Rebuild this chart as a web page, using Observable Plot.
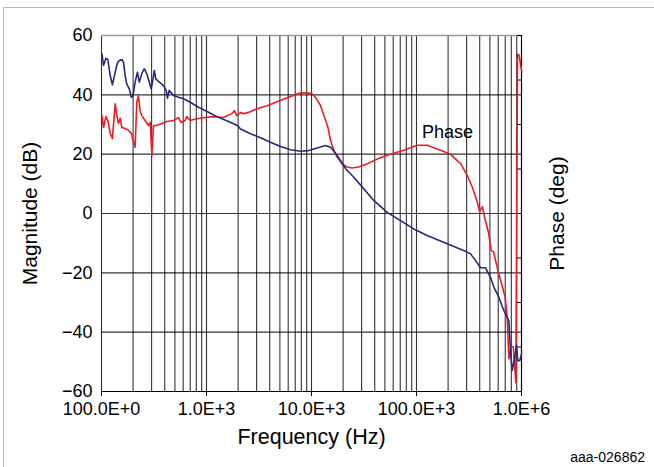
<!DOCTYPE html>
<html><head><meta charset="utf-8">
<script src="https://cdn.jsdelivr.net/npm/d3@7"></script>
<script src="https://cdn.jsdelivr.net/npm/@observablehq/plot@0.6"></script>
<style>
html,body{margin:0;padding:0;background:#fff;}
#wrap{position:relative;width:654px;height:467px;overflow:hidden;font-family:"Liberation Sans",Arial,sans-serif;}
#frame{position:absolute;left:3px;top:7px;width:660px;height:470px;border-top:1.5px solid #8fcad0;border-left:1.5px solid #8fcad0;pointer-events:none;}
#wrap svg{position:absolute;left:0;top:0;}
#code{position:absolute;right:9px;top:449px;font-size:14px;color:#000;}
</style></head><body>
<div id="wrap"><div id="frame"></div><div id="code">aaa-026862</div></div>
<script>
// Magnitude (dB) vs frequency (Hz)
const magFreq = [101,104.5,110,115,121,127,135,142,148,156,162,168,174,184,192,199,209,220,229,242,255,270,285,297,306,318,329,349,389,413,425,441,485,541,604,700,839,1045,1301,1620,1987,2108,2625,3268,4070,5070,6310,7855,9420,11330,13590,15170,16930,18890,21090,25290,31480,39190,52570,70400,94200,126400,169300,226600,293000,326800,364600,407000,454000,507000,545000,608000,678000,731000,757000,785000,815000,857000,896000,922000,963000,1000000];
const magDb = [53.8,49.9,52.3,51.9,46.5,43.4,47.6,50.8,51.6,51.9,51.0,46.5,43.7,42.0,39.2,39.5,44.3,47.6,44.3,47.1,48.8,47.1,44.3,42.0,44.3,48.2,45.4,44.5,43.1,41.5,38.9,41.5,39.8,39.2,38.7,37.5,35.8,34.1,32.4,31.0,29.6,28.5,26.9,25.5,24.0,22.6,21.5,21.0,21.2,22.1,22.9,22.3,20.3,17.9,15.1,12.2,8.3,4.4,0.4,-2.4,-5.2,-7.4,-9.3,-11.1,-12.7,-13.6,-15.8,-18.3,-18.3,-21.5,-24.8,-28.2,-32.7,-35.0,-36.1,-46.2,-52.9,-49.0,-44.5,-49.6,-49.6,-47.3];
// Phase (deg) vs frequency (Hz)
const phaseFreq = [101,104.5,110,115,121,127,135,140,145,151,156,168,181,192,202,209,217,225,233,242,260,280,291,302,313,336,375,419,485,541,574,626,649,700,752,839,970,1165,1452,1742,1845,1940,2108,2266,2625,3040,3800,4710,5870,7050,7855,9090,10160,11170,12200,13330,14340,15170,16300,17550,19600,21800,24300,28000,33700,42300,52600,75700,101400,126400,169300,210000,265000,306000,339000,380000,400000,424000,445000,487000,513000,543000,585000,627000,700000,731000,757000,799000,836000,883000,917000,950000,1000000];
const phaseDeg = [99,87,98,94,81,76,111,99,91,96,87,86,84,81,72,67,113,119,104,99,94,89,92,59,89,89,91,93,94,97,92,94,98,94,95,96,97,98,97,101,104,99,102,101,103,106,109,113,117,120,122,122,121,116,109,97,87,74,64,57,50,47,46,47,50,55,59,64,69,69,64,60,50,38,27,11,2,7,-4,-20,-37,-39,-54,-66,-85,-105,-147,-134,-135,-171,161,160,145];

const xTicks = [100, 1e3, 1e4, 1e5, 1e6];
const xTickLabels = ["100.0E+0", "1.0E+3", "10.0E+3", "100.0E+3", "1.0E+6"];
const yTicks = [-60, -40, -20, 0, 20, 40, 60];
const phaseTicks = [-180, -135, -90, -45, 0, 45, 90, 135, 180];
const phaseToDb = 120 / 360; // phase axis -180..180 spans the dB axis -60..60
const annotations = [{label: "Phase", f: 197000, db: 27.3}];

const mag = magFreq.map((f, i) => ({f, v: magDb[i]}));
const phase = phaseFreq.map((f, i) => ({f, v: phaseDeg[i] * phaseToDb}));

const chart = Plot.plot({
  width: 654, height: 467,
  marginLeft: 101, marginRight: 133, marginTop: 35, marginBottom: 76,
  style: {fontFamily: "'Liberation Sans', Arial, sans-serif", fontSize: "18px", color: "#000", background: "transparent", overflow: "visible"},
  x: {type: "log", domain: [100, 1e6]},
  y: {domain: [-60, 60]},
  marks: [
    Plot.gridX({ticks: 40, stroke: "#000", strokeOpacity: 0.8, strokeWidth: 1.1}),
    Plot.gridY(yTicks, {stroke: "#000", strokeOpacity: 0.8, strokeWidth: 1.1}),
    Plot.ruleY([60], {stroke: "#9a9a9a", strokeWidth: 1.5}),
    Plot.ruleY([-60], {stroke: "#000", strokeWidth: 1.1}),
    Plot.ruleX([1e6], {stroke: "#000", strokeWidth: 1.1}),
    Plot.axisX(xTicks, {tickSize: 5, tickPadding: 6, tickFormat: d => xTickLabels[xTicks.indexOf(d)], label: null, fontSize: 18}),
    Plot.axisY(yTicks, {anchor: "left", tickSize: 0, tickPadding: 9, label: null, fontSize: 18}),
    Plot.axisY(phaseTicks.map(d => d * phaseToDb), {anchor: "right", tickSize: 5, dx: -5, tickFormat: () => "", label: null}),
    Plot.line(phase, {x: "f", y: "v", stroke: "#ed1c24", strokeWidth: 1.6}),
    Plot.line(mag, {x: "f", y: "v", stroke: "#262a7c", strokeWidth: 1.6}),
    Plot.text(annotations, {x: "f", y: "db", text: "label", fontSize: 18}),
    Plot.text(["Frequency (Hz)"], {text: d => d, frameAnchor: "bottom", textAnchor: "middle", dy: 52, fontSize: 21.5}),
    Plot.text(["Magnitude (dB)"], {text: d => d, frameAnchor: "left", textAnchor: "middle", rotate: -90, dx: -71, fontSize: 21}),
    Plot.text(["Phase (deg)"], {text: d => d, frameAnchor: "right", textAnchor: "middle", rotate: -90, dx: 36, fontSize: 21})
  ]
});
document.getElementById("wrap").insertBefore(chart, document.getElementById("code"));
</script>
</body></html>
